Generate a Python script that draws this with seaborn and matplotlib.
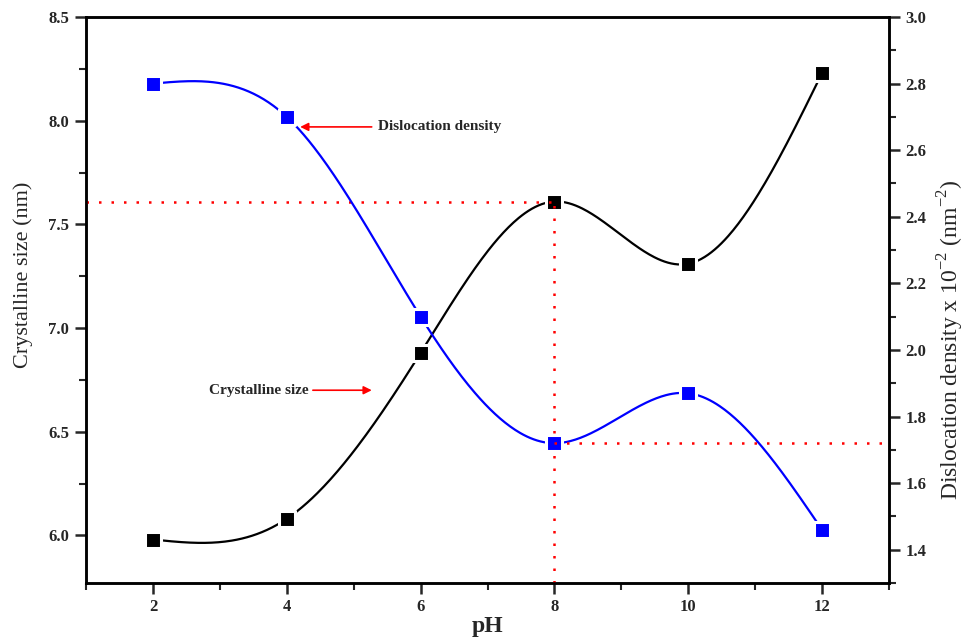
import numpy as np
import pandas as pd
import matplotlib
matplotlib.use("Agg")
import matplotlib.pyplot as plt
from matplotlib.ticker import MultipleLocator, FormatStrFormatter
import seaborn as sns

# Measured values versus pH
ph = [2, 4, 6, 8, 10, 12]
crystalline_size = [5.98, 6.08, 6.88, 7.61, 7.31, 8.23]      # nm
dislocation_density = [2.80, 2.70, 2.10, 1.72, 1.87, 1.46]   # x10^-2 nm^-2


def natural_spline(x, y, n=400):
    """Natural cubic spline through (x, y), sampled on n points."""
    x = np.asarray(x, float)
    y = np.asarray(y, float)
    m = len(x)
    h = np.diff(x)
    A = np.zeros((m, m))
    b = np.zeros(m)
    A[0, 0] = A[-1, -1] = 1.0
    for i in range(1, m - 1):
        A[i, i - 1] = h[i - 1]
        A[i, i] = 2 * (h[i - 1] + h[i])
        A[i, i + 1] = h[i]
        b[i] = 3 * ((y[i + 1] - y[i]) / h[i] - (y[i] - y[i - 1]) / h[i - 1])
    c = np.linalg.solve(A, b)
    xs = np.linspace(x[0], x[-1], n)
    idx = np.clip(np.searchsorted(x, xs) - 1, 0, m - 2)
    dx = xs - x[idx]
    bb = (y[idx + 1] - y[idx]) / h[idx] - h[idx] * (2 * c[idx] + c[idx + 1]) / 3
    dd = (c[idx + 1] - c[idx]) / (3 * h[idx])
    ys = y[idx] + bb * dx + c[idx] * dx ** 2 + dd * dx ** 3
    return xs, ys


sns.set_style("ticks")
plt.rcParams["font.family"] = ["Liberation Serif", "DejaVu Serif"]
plt.rcParams["mathtext.fontset"] = "custom"
plt.rcParams["mathtext.rm"] = "Liberation Serif"

fig = plt.figure(figsize=(9.7, 6.4), dpi=100)
ax = fig.add_axes([0.0887, 0.089, 0.8278, 0.8844])
ax2 = ax.twinx()

pts = pd.DataFrame({"pH": ph, "size": crystalline_size, "disl": dislocation_density})
sx, sy = natural_spline(ph, crystalline_size)
dx_, dy_ = natural_spline(ph, dislocation_density)
curve_size = pd.DataFrame({"pH": sx, "size": sy})
curve_disl = pd.DataFrame({"pH": dx_, "disl": dy_})

# Crystalline size (left axis)
sns.lineplot(data=curve_size, x="pH", y="size", ax=ax, color="black", lw=1.6, zorder=2)
sns.scatterplot(data=pts, x="pH", y="size", ax=ax, marker="s", s=120, color="black",
                edgecolor="white", linewidth=2.2, zorder=3)

# Dislocation density (right axis)
sns.lineplot(data=curve_disl, x="pH", y="disl", ax=ax2, color="#0000ff", lw=1.6, zorder=2)
sns.scatterplot(data=pts, x="pH", y="disl", ax=ax2, marker="s", s=120, color="#0000ff",
                edgecolor="white", linewidth=2.2, zorder=3)

ax.set_xlim(1, 13)
ax.set_ylim(5.77, 8.5)
ax2.set_ylim(1.3, 3.0)

# Guide lines at pH 8
peak_ph = ph[3]
ax.plot([1, peak_ph], [crystalline_size[3]] * 2, color="red", ls=(0, (1, 4)), lw=1.8, zorder=5)
ax.plot([peak_ph, peak_ph], [5.77, crystalline_size[3]], color="red", ls=(0, (1, 4)), lw=1.8, zorder=5)
ax2.plot([peak_ph, 13], [dislocation_density[3]] * 2, color="red", ls=(0, (1, 4)), lw=1.8, zorder=5)

# Series labels with arrows
ax.annotate("Dislocation density", xy=(4.2, 7.97), xytext=(5.36, 7.97),
            fontsize=11, fontweight="bold", va="center", ha="left",
            arrowprops=dict(arrowstyle="-|>", color="red", lw=1.2, shrinkA=2, shrinkB=0,
                            mutation_scale=12))
ax.annotate("Crystalline size", xy=(5.27, 6.70), xytext=(4.32, 6.70),
            fontsize=11, fontweight="bold", va="center", ha="right",
            arrowprops=dict(arrowstyle="-|>", color="red", lw=1.2, shrinkA=1, shrinkB=0,
                            mutation_scale=12))

# Axis formatting
ax.xaxis.set_major_locator(MultipleLocator(2))
ax.xaxis.set_minor_locator(MultipleLocator(1))
ax.yaxis.set_major_locator(MultipleLocator(0.5))
ax.yaxis.set_minor_locator(MultipleLocator(0.25))
ax2.yaxis.set_major_locator(MultipleLocator(0.2))
ax2.yaxis.set_minor_locator(MultipleLocator(0.1))
ax.yaxis.set_major_formatter(FormatStrFormatter("%.1f"))
ax2.yaxis.set_major_formatter(FormatStrFormatter("%.1f"))

for a in (ax, ax2):
    for sp in a.spines.values():
        sp.set_linewidth(1.8)
        sp.set_color("black")
    a.tick_params(which="major", direction="out", length=8, width=1.8, labelsize=12)
    a.tick_params(which="minor", direction="out", length=5, width=1.5)
    for lbl in a.get_xticklabels() + a.get_yticklabels():
        lbl.set_fontweight("bold")
ax.tick_params(axis="x", which="both", top=False)
ax.tick_params(axis="y", which="both", right=False, pad=4)
ax2.tick_params(axis="y", which="both", left=False, right=True, pad=4)

ax.set_xlabel("pH", fontsize=17, fontweight="bold", labelpad=1)
ax.set_ylabel("Crystalline size (nm)", fontsize=16)
ax2.set_ylabel(r"Dislocation density x 10$^{\mathrm{-2}}$ (nm$^{\mathrm{-2}}$)", fontsize=17)
ax.yaxis.set_label_coords(-0.066, 0.545)
ax2.yaxis.set_label_coords(1.058, 0.43)

fig.savefig("out.png", dpi=100, facecolor="white")
